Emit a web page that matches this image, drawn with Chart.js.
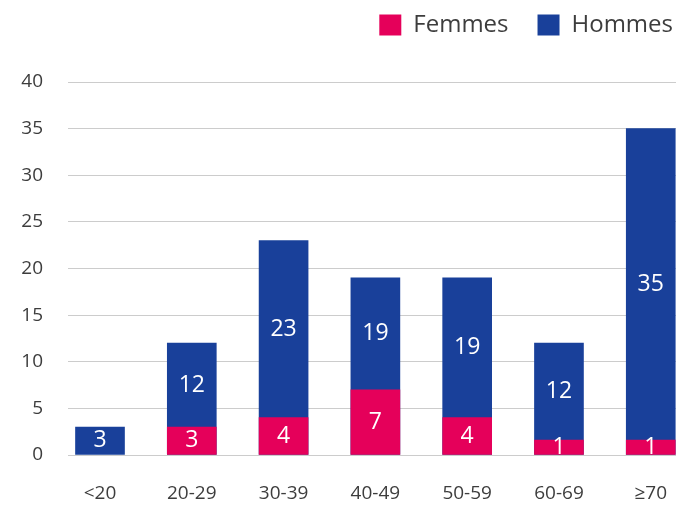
<!DOCTYPE html>
<html>
<head>
<meta charset="utf-8">
<title>Femmes / Hommes par tranche d'âge</title>
<script src="https://cdn.jsdelivr.net/npm/chart.js@4/dist/chart.umd.min.js"></script>
<style>
	html, body { margin: 0; padding: 0; background: #fff; }
	#wrap { position: relative; width: 682px; height: 505px; }
</style>
</head>
<body>
<div id="wrap"><canvas id="chart"></canvas></div>
<script>
// data
var categories = ['<20', '20-29', '30-39', '40-49', '50-59', '60-69', '≥70'];
var femmes = [0, 3, 4, 7, 4, 1, 1];
var hommes = [3, 12, 23, 19, 19, 12, 35];
var y_ticks = [0, 5, 10, 15, 20, 25, 30, 35, 40];

var PINK = '#e5005a';
var BLUE = '#19409a';
var TEXT = '#3d3d3d';
var FONT = "'Open Sans', 'Liberation Sans', sans-serif";

// x range of the (linear) index axis, so bar spacing follows the original
var X_MIN = -0.3486;
var X_MAX = 6.275;

// turn a value list into {x, y} points, 0 means no bar
var to_points = function(values) {
	return values.map(function(v, i) {
		return {x: i, y: v > 0 ? v : null};
	});
};

// white numbers inside the visible part of each bar
var value_labels = {
	id: 'value_labels',
	afterDatasetsDraw: function(chart) {
		var ctx = chart.ctx;
		var area = chart.chartArea;
		var f_meta = chart.getDatasetMeta(0);
		var h_meta = chart.getDatasetMeta(1);
		ctx.save();
		ctx.beginPath();
		ctx.rect(area.left, area.top, area.right - area.left, area.bottom - area.top);
		ctx.clip();
		ctx.fillStyle = '#ffffff';
		ctx.font = '23px ' + FONT;
		ctx.textAlign = 'center';
		ctx.textBaseline = 'middle';
		for (var i = 0; i < categories.length; i++) {
			var h = h_meta.data[i];
			var bottom = h.base;
			if (femmes[i] > 0) {
				var f = f_meta.data[i];
				ctx.fillText(String(femmes[i]), f.x, (f.y + f.base) / 2);
				bottom = f.y;
			}
			ctx.fillText(String(hommes[i]), h.x, (h.y + bottom) / 2);
		}
		ctx.restore();
	}
};

// legend: fixed height above the plot, moved up and to the right edge
var legend_spacing = {
	id: 'legend_spacing',
	beforeInit: function(chart) {
		var fit = chart.legend.fit;
		chart.legend.fit = function() {
			fit.call(this);
			this.height = 82;
		};
	},
	afterLayout: function(chart) {
		chart.legend.right += 26;
		chart.legend.top -= 16;
		chart.legend.bottom -= 16;
	}
};

var chart = new Chart(document.getElementById('chart'), {
	type: 'bar',
	data: {
		datasets: [{
			label: 'Femmes',
			data: to_points(femmes),
			backgroundColor: PINK,
			barThickness: 49,
			minBarLength: 15,
			grouped: false
		}, {
			label: 'Hommes',
			data: to_points(hommes),
			backgroundColor: BLUE,
			barThickness: 49,
			grouped: false
		}]
	},
	options: {
		responsive: true,
		maintainAspectRatio: false,
		animation: false,
		layout: {
			padding: {top: 0, right: 6, bottom: 0, left: 0}
		},
		plugins: {
			tooltip: {enabled: false},
			legend: {
				position: 'top',
				align: 'end',
				labels: {
					boxWidth: 22,
					boxHeight: 21,
					padding: 29,
					color: TEXT,
					font: {family: FONT, size: 24}
				}
			}
		},
		scales: {
			x: {
				type: 'linear',
				min: X_MIN,
				max: X_MAX,
				offset: false,
				grid: {display: false, drawTicks: false},
				border: {display: false},
				afterBuildTicks: function(scale) {
					scale.ticks = categories.map(function(c, i) { return {value: i}; });
				},
				afterFit: function(scale) {
					scale.height = 50;
					scale.paddingLeft = 0;
					scale.paddingRight = 0;
				},
				ticks: {
					autoSkip: false,
					maxRotation: 0,
					padding: 27,
					color: TEXT,
					font: {family: FONT, size: 19},
					callback: function(value) { return categories[value]; }
				}
			},
			y: {
				min: y_ticks[0],
				max: y_ticks[y_ticks.length - 1],
				grid: {color: '#cccccc', lineWidth: 1, drawTicks: false},
				border: {display: false},
				afterFit: function(scale) { scale.width = 68; },
				ticks: {
					stepSize: y_ticks[1] - y_ticks[0],
					padding: 25,
					color: TEXT,
					font: {family: FONT, size: 19}
				}
			}
		}
	},
	plugins: [value_labels, legend_spacing]
});
</script>
</body>
</html>
